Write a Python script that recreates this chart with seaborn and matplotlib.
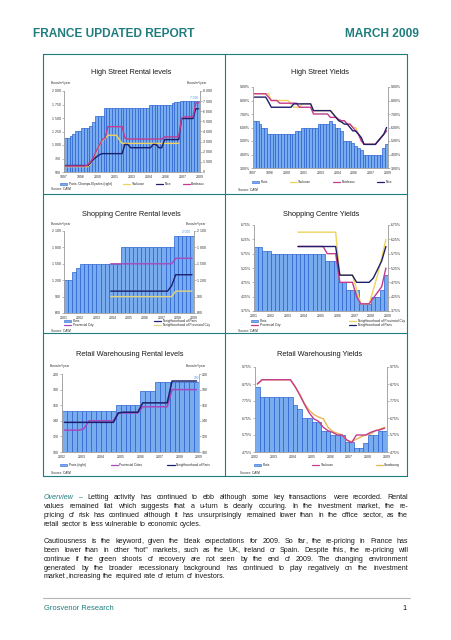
import numpy as np
import matplotlib
matplotlib.use("Agg")
import matplotlib.pyplot as plt
import seaborn as sns
from matplotlib.lines import Line2D
from matplotlib.patches import Patch

# ---------------- data (quarterly values) ----------------
hs_xlabels = ["1997", "1998", "2000", "2001", "2003", "2004", "2006", "2007", "2009"]

hs_rent_paris = [3400, 3400, 3600, 3800, 4000, 4000, 4300, 4300, 4300, 4500, 4900, 5500,
                 5500, 5500, 6300, 6300, 6300, 6300, 6300, 6300, 6300, 6300, 6300, 6300,
                 6300, 6300, 6300, 6300, 6300, 6300, 6600, 6600, 6600, 6600, 6600, 6600,
                 6600, 6600, 6800, 6900, 6900, 7000, 7000, 7000, 7000, 7000, 7000, 7000]
hs_rent_toulouse = [600, 600, 600, 600, 600, 600, 600, 600, 600, 660, 760, 880,
                    1000, 1080, 1120, 1180, 1180, 1180, 1180, 1100, 1030, 1030, 1030, 1030,
                    1030, 1030, 1030, 1030, 1030, 1030, 1030, 1030, 1030, 1030, 1030, 1030,
                    1030, 1030, 1030, 1030, 1030, np.nan, np.nan, np.nan, np.nan, np.nan, np.nan, np.nan]
hs_rent_nice = [620, 620, 620, 620, 620, 620, 620, 620, 620, 680, 740, 780,
                820, 840, 840, 840, 840, 840, 840, 840, 840, 1010, 1010, 950,
                950, 950, 950, 950, 950, 950, 950, 1010, 1010, 950, 950, 1100,
                1100, 1100, 1100, 1100, 1100, 1490, 1490, 1490, 1490, 1490, 1670, 1670]
hs_rent_bordeaux = [610, 610, 610, 610, 610, 610, 610, 610, 640, 700, 780, 900,
                    1000, 1100, 1130, 1340, 1340, 1340, 1340, 1340, 1340, 1130, 1110, 1110,
                    1110, 1110, 1110, 1110, 1110, 1110, 1110, 1110, 1110, 1110, 1110, 1150,
                    1150, 1150, 1150, 1150, 1150, 1500, 1520, 1520, 1520, 1520, 1780, 1780]

hs_yield_paris = [6.5, 6.5, 6.25, 6.0, 6.0, 5.5, 5.5, 5.5, 5.5, 5.5, 5.5, 5.5,
                  5.5, 5.5, 5.5, 5.75, 5.75, 6.0, 6.0, 6.0, 6.0, 6.0, 6.0, 6.25,
                  6.25, 6.25, 6.25, 6.5, 6.25, 6.0, 6.0, 5.75, 5.0, 5.0, 5.0, 4.85,
                  4.65, 4.5, 4.3, 4.0, 4.0, 4.0, 4.0, 4.0, 4.0, 4.0, 4.5, 4.75]
hs_yield_toulouse = [8.5, 8.5, 8.5, 8.5, 8.5, 8.5, 8.0, 8.0, 8.0, 8.0, 8.0, 8.0,
                     8.0, 7.75, 7.5, 7.5, 7.5, 7.75, 7.75, 7.75, 7.75, 7.25, 7.25, 7.25,
                     7.25, 7.25, 7.25, 7.25, 7.0, 6.75, 6.5, 6.5, 6.5, 6.25, 6.25, 6.0,
                     6.0, 5.5, 5.25, 4.75, 4.75, 4.75, 4.75, 4.75, 5.0, 5.25, 5.5, 5.75]
hs_yield_bordeaux = [8.5, 8.5, 8.5, 8.5, 8.5, 8.25, 8.0, 8.0, 8.0, 7.8, 7.8, 7.8,
                     7.8, 7.8, 7.8, 7.8, 7.5, 7.5, 7.5, 7.5, 7.5, 7.0, 7.0, 7.0,
                     7.0, 7.0, 7.0, 6.75, 6.75, 6.75, 6.6, 6.5, 6.5, 6.25, 6.25, 6.0,
                     5.75, 5.5, 5.0, 4.75, 4.75, 4.75, 4.75, 4.75, 5.0, 5.25, 5.5, 5.75]
hs_yield_nice = [8.25, 8.25, 8.25, 8.25, 8.25, 7.9, 7.5, 7.5, 7.5, 7.5, 7.5, 7.5,
                 7.5, 7.5, 7.75, 7.75, 7.75, 7.75, 7.75, 7.75, 7.75, 7.25, 7.25, 7.25,
                 7.25, 7.25, 7.25, 7.25, 7.0, 6.75, 6.5, 6.4, 6.25, 6.25, 6.0, 5.75,
                 5.75, 5.5, 5.25, 4.75, 4.75, 4.75, 4.75, 4.75, 5.0, 5.25, 5.5, 6.0]

sc_xlabels = ["2001", "2002", "2003", "2004", "2005", "2006", "2007", "2008", "2009"]
sc_rent_paris = [1200, 1200, 1350, 1430, 1500, 1500, 1500, 1500, 1500, 1500, 1500, 1500,
                 1500, 1500, 1800, 1800, 1800, 1800, 1800, 1800, 1800, 1800, 1800, 1800,
                 1800, 1800, 1800, 2000, 2000, 2000, 2000, 2000]
sc_rent_provincial = [np.nan, np.nan, np.nan, np.nan, np.nan, np.nan, np.nan, np.nan,
                      np.nan, np.nan, np.nan, 1500, 1500, 1500, 1500, 1500, 1500, 1500, 1500,
                      1500, 1500, 1500, 1500, 1500, 1500, 1500, 1500, 1600, 1600, 1600, 1600, 1600]
sc_rent_neigh_paris = [np.nan, np.nan, np.nan, np.nan, np.nan, np.nan, np.nan, np.nan,
                       np.nan, np.nan, np.nan, 1000, 1000, 1000, 1000, 1000, 1000, 1000, 1000,
                       1000, 1000, 1000, 1000, 1000, 1000, 1000, 1100, 1300, 1300, 1300, 1300, 1300]
sc_rent_neigh_prov = [np.nan, np.nan, np.nan, np.nan, np.nan, np.nan, np.nan, np.nan,
                      np.nan, np.nan, np.nan, 900, 900, 900, 900, 900, 900, 900, 900,
                      900, 900, 900, 900, 900, 900, 900, 900, 1000, 1000, 1000, 1000, 1000]

sc_yield_paris = [6.0, 6.0, 5.85, 5.85, 5.75, 5.75, 5.75, 5.75, 5.75, 5.75, 5.75, 5.75,
                  5.75, 5.75, 5.75, 5.75, 5.75, 5.5, 5.5, 5.5, 4.75, 4.75, 4.5, 4.5,
                  4.5, 4.0, 4.0, 4.0, 4.25, 4.25, 4.5, 5.0]
sc_yield_neigh_paris = [np.nan, np.nan, np.nan, np.nan, np.nan, np.nan, np.nan, np.nan, np.nan, np.nan,
                        6.0, 6.0, 6.0, 6.0, 6.0, 6.0, 6.0, 6.0, 6.0, 6.0, 5.0, 5.0,
                        5.0, 5.0, 4.75, 4.75, 4.75, 4.75, 4.9, 5.2, 5.5, 6.0]
sc_yield_provincial = [np.nan, np.nan, np.nan, np.nan, np.nan, np.nan, np.nan, np.nan, np.nan, np.nan,
                       6.0, 6.0, 6.0, 6.0, 6.0, 6.0, 6.0, 5.75, 5.75, 5.75, 4.75, 4.75,
                       4.75, 4.75, 4.25, 4.0, 4.0, 4.0, 4.2, 4.4, 4.6, 5.25]
sc_yield_neigh_prov = [np.nan, np.nan, np.nan, np.nan, np.nan, np.nan, np.nan, np.nan, np.nan, np.nan,
                       6.5, 6.5, 6.5, 6.5, 6.5, 6.5, 6.5, 6.5, 6.5, 6.5, 5.0, 5.0,
                       5.0, 5.0, 4.5, 4.0, 4.0, 4.0, 4.5, 5.0, 5.6, 6.25]

rw_xlabels = ["2002", "2003", "2004", "2005", "2006", "2007", "2008", "2009"]
rw_rent_paris = [152, 152, 152, 152, 152, 152, 152, 152, 152, 152, 152, 160, 160, 160,
                 160, 160, 178, 178, 178, 190, 190, 190, 190, 190, 190, 190, 190, 190]
rw_rent_provincial = [128, 128, 128, 128, 130, 140, 140, 140, 140, 140, 140, 150, 150, 150,
                      150, 150, 158, 158, 158, 158, 158, 158, 180, 180, 180, 180, 180, 180]
rw_rent_neigh_paris = [138, 138, 138, 138, 138, 138, 138, 138, 138, 138, 138, 150, 151, 151,
                       151, 151, 163, 163, 163, 163, 163, 163, 191, 191, 191, 191, 191, 191]

rw_yield_paris = [8.6, 8.0, 8.0, 8.0, 8.0, 8.0, 8.0, 8.0, 7.5, 7.25, 6.75, 6.75, 6.5, 6.5,
                  6.0, 6.0, 5.75, 5.75, 5.75, 5.35, 5.35, 5.0, 5.0, 5.25, 5.75, 5.75, 6.0, 6.0]
rw_yield_toulouse = [8.75, 9.0, 9.0, 9.0, 9.0, 9.0, 9.0, 9.0, 8.6, 8.1, 7.55, 7.05, 6.7, 6.55,
                     6.2, 6.0, 5.9, 5.75, 5.75, 5.45, 5.3, 5.75, 5.75, 5.75, 5.9, 6.0, 6.05, 6.15]
rw_yield_strasbourg = [8.75, 9.0, 9.0, 9.0, 9.0, 9.0, 9.0, 9.0, 8.6, 8.15, 7.6, 7.2, 6.95, 6.8,
                       6.7, 6.2, 5.95, 5.85, 5.75, 5.45, 5.35, 5.5, 5.65, 5.75, 5.8, 6.0, 6.1, 6.2]

# ---------------- styling ----------------
sns.set_style("white")
plt.rcParams["font.family"] = ["Liberation Sans", "DejaVu Sans"]

W, H = 452, 640
TEAL = "#1f7d7e"
BAR_FACE = "#78acee"
BAR_EDGE = "#2a62d0"
YELLOW = "#f1d25c"
ORANGE = "#e9b552"
PINK = "#c43a8e"
PURPLE = "#a848b8"
NAVY = "#1d1f6c"
TICK_FS = 2.5
LEG_FS = 2.3

fig = plt.figure(figsize=(W / 100, H / 100), dpi=100)


def fx(x):
    return x / W


def fy(y):
    return 1 - y / H


def px_rect(x0, y0, x1, y1):
    return [x0 / W, 1 - y1 / H, (x1 - x0) / W, (y1 - y0) / H]


def style_axes(ax, n, xlabels, step, ylim, yticks, fmt):
    ax.set_xlim(-0.5, n - 0.5)
    ax.set_ylim(*ylim)
    ax.set_yticks(yticks)
    ax.set_yticklabels([fmt(v) for v in yticks])
    ax.set_xticks([-0.5 + step * k for k in range(len(xlabels))])
    ax.set_xticklabels(xlabels)
    ax.set_xlabel("")
    ax.set_ylabel("")
    ax.grid(False)
    ax.tick_params(axis="both", labelsize=TICK_FS, length=1.3, width=0.4, pad=0.8,
                   colors="#888888", labelcolor="#333333")
    ax.spines["top"].set_visible(False)
    for s in ["left", "right", "bottom"]:
        ax.spines[s].set_color("#a0a0a0")
        ax.spines[s].set_linewidth(0.5)


def thousands(v):
    return f"{v:,.0f}".replace(",", " ")


def pct(v):
    return f"{v:.2f}%"


def plain(v):
    return f"{v:.0f}"


def bars(ax, vals):
    sns.barplot(x=np.arange(len(vals)), y=vals, ax=ax, color=BAR_FACE, edgecolor=BAR_EDGE,
                linewidth=0.5, width=1.0, errorbar=None, saturation=1, native_scale=True)


def line(ax, vals, color, lw=1.0):
    sns.lineplot(x=np.arange(len(vals)), y=vals, ax=ax, color=color, linewidth=lw,
                 estimator=None)


def legend(handles, labels, x0, x1, yc, ncol, h=6):
    fig.legend(handles, labels, loc="center", ncol=ncol, mode="expand", frameon=False,
               bbox_to_anchor=(fx(x0), fy(yc + h / 2), fx(x1) - fx(x0), h / H),
               fontsize=LEG_FS, handlelength=2.2, handleheight=0.6, handletextpad=0.5,
               borderpad=0, labelspacing=0.15, borderaxespad=0, columnspacing=0.5)


def bar_handle():
    return Patch(facecolor=BAR_FACE, edgecolor=BAR_EDGE, linewidth=0.4)


def line_handle(c):
    return Line2D([], [], color=c, lw=0.9)


def small(x, y, s, ha="left", color="#333333", fs=2.3):
    fig.text(fx(x), fy(y), s, ha=ha, va="center", fontsize=fs, color=color)


def title(x, y, s):
    fig.text(fx(x), fy(y), s, ha="center", va="center", fontsize=5.3, color="#1a1a1a")


# ---------------- Panel 1: High Street Rental levels ----------------
ax = fig.add_axes(px_rect(64, 91, 200, 172))
axr = ax.twinx()
bars(axr, hs_rent_paris)
line(ax, hs_rent_toulouse, YELLOW)
line(ax, hs_rent_nice, NAVY)
line(ax, hs_rent_bordeaux, PINK)
style_axes(ax, 48, hs_xlabels, 6, (500, 2000), [500, 750, 1000, 1250, 1500, 1750, 2000], thousands)
style_axes(axr, 48, hs_xlabels, 6, (0, 8000), [0, 1000, 2000, 3000, 4000, 5000, 6000, 7000, 8000], thousands)
ax.set_zorder(axr.get_zorder() + 1)
ax.patch.set_visible(False)
axr.text(45.5, 7150, "7 000", ha="center", va="bottom", fontsize=2.3, color="#4a8fe6")
title(131, 73, "High Street Rental levels")
small(51, 83, "Euros/m²/year")
small(207, 83, "Euros/m²/year", ha="right")
legend([bar_handle(), line_handle(YELLOW), line_handle(NAVY), line_handle(PINK)],
       ["Paris: Champs-Elysées (right)", "Toulouse", "Nice", "Bordeaux"], 60, 205, 184, 4)
small(51, 189, "Source: CAWI")

# ---------------- Panel 2: High Street Yields ----------------
ax = fig.add_axes(px_rect(253, 87, 388, 168))
axr = ax.twinx()
bars(ax, hs_yield_paris)
line(ax, hs_yield_toulouse, YELLOW)
line(ax, hs_yield_bordeaux, PINK)
line(ax, hs_yield_nice, NAVY)
yt = [3, 4, 5, 6, 7, 8, 9]
style_axes(ax, 48, hs_xlabels, 6, (3, 9), yt, pct)
style_axes(axr, 48, hs_xlabels, 6, (3, 9), yt, pct)
title(320, 73, "High Street Yields")
legend([bar_handle(), line_handle(YELLOW), line_handle(PINK), line_handle(NAVY)],
       ["Paris", "Toulouse", "Bordeaux", "Nice"], 252, 392, 182, 4)
small(238, 190, "Source: CAWI")

# ---------------- Panel 3: Shopping Centre Rental levels ----------------
ax = fig.add_axes(px_rect(64, 231, 194, 313))
axr = ax.twinx()
bars(ax, sc_rent_paris)
line(ax, sc_rent_provincial, PURPLE)
line(ax, sc_rent_neigh_paris, NAVY)
line(ax, sc_rent_neigh_prov, "#e3d27e")
yt = [600, 900, 1200, 1500, 1800, 2100]
style_axes(ax, 32, sc_xlabels, 4, (600, 2100), yt, thousands)
style_axes(axr, 32, sc_xlabels, 4, (600, 2100), yt, thousands)
ax.text(29.5, 2040, "2 000", ha="center", va="bottom", fontsize=2.3, color="#4a8fe6")
title(131, 214, "Shopping Centre Rental levels")
small(51, 224, "Euros/m²/year")
small(206, 224, "Euros/m²/year", ha="right")
legend([bar_handle(), line_handle(PURPLE), line_handle(NAVY), line_handle("#e3d27e")],
       ["Paris", "Provincial City", "Neighbourhood of Paris", "Neighbourhood of Provincial City"],
       64, 210, 323, 2, h=6)
small(51, 331, "Source: CAWI")

# ---------------- Panel 4: Shopping Centre Yields ----------------
ax = fig.add_axes(px_rect(254, 225, 388, 311))
axr = ax.twinx()
bars(ax, sc_yield_paris)
line(ax, sc_yield_neigh_prov, YELLOW)
line(ax, sc_yield_provincial, PINK)
line(ax, sc_yield_neigh_paris, NAVY)
yt = [3.75, 4.25, 4.75, 5.25, 5.75, 6.25, 6.75]
style_axes(ax, 32, sc_xlabels, 4, (3.75, 6.75), yt, pct)
style_axes(axr, 32, sc_xlabels, 4, (3.75, 6.75), yt, pct)
title(321, 214, "Shopping Centre Yields")
legend([bar_handle(), line_handle(PINK), line_handle(YELLOW), line_handle(NAVY)],
       ["Paris", "Provincial City", "Neighbourhood of Provincial City", "Neighbourhood of Paris"],
       251, 405, 323, 2, h=6)
small(238, 331, "Source: CAWI")

# ---------------- Panel 5: Retail Warehousing Rental levels ----------------
ax = fig.add_axes(px_rect(62, 374, 199, 452))
axr = ax.twinx()
bars(ax, rw_rent_paris)
line(ax, rw_rent_provincial, PURPLE, 1.1)
line(ax, rw_rent_neigh_paris, NAVY, 1.1)
yt = [100, 120, 140, 160, 180, 200]
style_axes(ax, 28, rw_xlabels, 4, (100, 200), yt, plain)
style_axes(axr, 28, rw_xlabels, 4, (100, 200), yt, plain)
axr.spines["right"].set_color("#d8a0c8")
ax.text(27, 192.5, "190", ha="center", va="bottom", fontsize=2.3, color="#4a8fe6")
title(130, 354, "Retail Warehousing Rental levels")
small(50, 366, "Euros/m²/year")
small(206, 366, "Euros/m²/year", ha="right")
legend([bar_handle(), line_handle(PURPLE), line_handle(NAVY)],
       ["Paris (right)", "Provincial Cities", "Neighbourhood of Paris"], 60, 210, 465, 3)
small(51, 473, "Source: CAWI")

# ---------------- Panel 6: Retail Warehousing Yields ----------------
ax = fig.add_axes(px_rect(255, 367, 387, 452))
axr = ax.twinx()
bars(ax, rw_yield_paris)
line(ax, rw_yield_strasbourg, ORANGE)
line(ax, rw_yield_toulouse, PINK)
yt = [4.75, 5.75, 6.75, 7.75, 8.75, 9.75]
style_axes(ax, 28, rw_xlabels, 4, (4.75, 9.75), yt, pct)
style_axes(axr, 28, rw_xlabels, 4, (4.75, 9.75), yt, pct)
title(320, 354, "Retail Warehousing Yields")
legend([bar_handle(), line_handle(PINK), line_handle(ORANGE)],
       ["Paris", "Toulouse", "Strasbourg"], 254, 400, 465, 3)
small(240, 473, "Source: CAWI")

# ---------------- frames ----------------
def hline(x0, x1, y, color=TEAL, lw=0.8):
    fig.add_artist(Line2D([fx(x0), fx(x1)], [fy(y), fy(y)], color=color, lw=lw,
                          transform=fig.transFigure))


def vline(x, y0, y1, color=TEAL, lw=0.8):
    fig.add_artist(Line2D([fx(x), fx(x)], [fy(y0), fy(y1)], color=color, lw=lw,
                          transform=fig.transFigure))


hline(43, 407, 54)
hline(43, 407, 194)
hline(43, 407, 333)
hline(43, 407, 476)
vline(43, 54, 476)
vline(407, 54, 476)
vline(225, 54, 476)

# ---------------- header / footer ----------------
fig.text(fx(33), fy(34), "FRANCE UPDATED REPORT", ha="left", va="center",
         fontsize=8.6, fontweight="bold", color=TEAL)
fig.text(fx(419), fy(34), "MARCH 2009", ha="right", va="center",
         fontsize=8.6, fontweight="bold", color=TEAL)
hline(43, 410, 598, color="#b5b5b5", lw=0.8)
fig.text(fx(44), fy(608), "Grosvenor Research", ha="left", va="center", fontsize=5.4, color=TEAL)
fig.text(fx(407), fy(608), "1", ha="right", va="center", fontsize=5.4, color="#111111")

# ---------------- justified paragraphs ----------------
renderer = fig.canvas.get_renderer()
FS = 5.15
BLACK = {"color": "#1a1a1a"}
OVER = {"color": TEAL, "style": "italic"}
DASH = {"color": TEAL}

para_lines = [
    ([("Overview", OVER), ("–", DASH), ("Letting activity has continued to ebb although some key transactions were recorded. Rental", BLACK)], True, 497),
    ([("values remained flat which suggests that a u-turn is clearly occuring. In the investment market, the re-", BLACK)], True, 506),
    ([("pricing of risk has continued although it has unsurprisingly remained lower than in the office sector, as the", BLACK)], True, 515),
    ([("retail sector is less vulnerable to economic cycles.", BLACK)], False, 523.5),
    ([("Cautiousness is the keyword, given the bleak expectations for 2009. So far, the re-pricing in France has", BLACK)], True, 541),
    ([("been lower than in other “hot” markets, such as the UK, Ireland or Spain. Despite this, the re-pricing will", BLACK)], True, 549.8),
    ([("continue if the green shoots of recovery are not seen by the end of 2009. The changing environment", BLACK)], True, 558.6),
    ([("generated by the broader recessionary background has continued to play negatively on the investment", BLACK)], True, 567.3),
    ([("market, increasing the required rate of return of investors.", BLACK)], False, 576.2),
]

X0, X1 = 44, 408


def measure(s, sty):
    t = fig.text(0, 0, s, fontsize=FS, **sty)
    w = t.get_window_extent(renderer).width
    t.remove()
    return w


space_w = measure("a a", BLACK) - measure("aa", BLACK)
comma_w = measure(",", BLACK)

for segs, justify, y in para_lines:
    words = []
    for text, sty in segs:
        for w in text.split():
            words.append((w, sty))
    # trailing commas are drawn as separate pieces, tucked right after the word
    parts = []
    widths = []
    for w, sty in words:
        if w.endswith(",") and len(w) > 1:
            core = w[:-1]
            wc = measure(core, sty)
            parts.append([(core, sty, 0.0), (",", sty, wc - 0.9)])
            widths.append(wc - 0.9 + comma_w)
        else:
            parts.append([(w, sty, 0.0)])
            widths.append(measure(w, sty))
    if justify and len(words) > 1:
        gap = (X1 - X0 - sum(widths)) / (len(words) - 1)
    else:
        gap = space_w
    x = X0
    for pieces, wd in zip(parts, widths):
        for s, sty, off in pieces:
            fig.text(fx(x + off), fy(y + 2.2), s, ha="left", va="baseline", fontsize=FS, **sty)
        x += wd + gap

fig.savefig("out.png", dpi=100)
